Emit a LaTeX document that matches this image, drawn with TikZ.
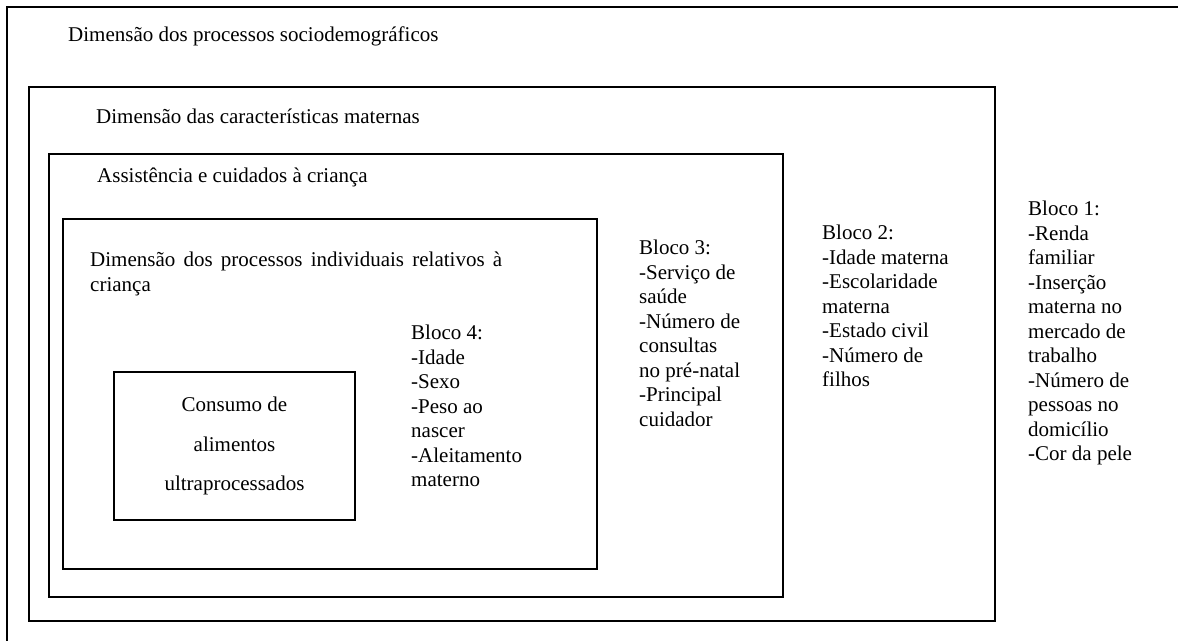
\documentclass[tikz,border=0pt]{standalone}
\usepackage{fontspec}
\setmainfont{Liberation Serif}
\usepackage{tikz}
\usetikzlibrary{positioning}

\begin{document}
\begin{tikzpicture}[
  x=1pt, y=-1pt,
  font=\fontsize{21}{24.5}\selectfont,
  frame/.style={draw=black, line width=1.6pt},
  caption/.style={anchor=north west, inner sep=0pt, align=left},
  blocklist/.style={anchor=north west, inner sep=0pt, align=left},
  core/.style={inner sep=0pt, align=center, font=\fontsize{21}{39.5}\selectfont},
]
\useasboundingbox (0,0) rectangle (1178,640);

% Nested dimensions
\draw[frame] (7,7) rectangle (1200,660);
\draw[frame] (29,87) rectangle (995,621);
\draw[frame] (49,154) rectangle (783,597);
\draw[frame] (63,219) rectangle (597,569);
\draw[frame] (114,372) rectangle (355,520);

% Dimension titles
\node[caption] (socio) at (68,27) {Dimensão dos processos sociodemográficos};
\node[caption] (mat) at (96,109) {Dimensão das características maternas};
\node[caption] (assist) at (97,168) {Assistência e cuidados à criança};
\node[caption] (indiv) at (90,252)
  {\makebox[412pt][s]{Dimensão dos processos individuais relativos à}\\criança};

% Outcome
\node[core] (consumo) at (234.5,446) {Consumo de\\alimentos\\ultraprocessados};

% Blocks of variables
\node[blocklist] (b4) at (411,325) {Bloco 4:\\-Idade\\-Sexo\\-Peso ao\\nascer\\-Aleitamento\\materno};
\node[blocklist] (b3) at (639,240) {Bloco 3:\\-Serviço de\\saúde\\-Número de\\consultas\\no pré-natal\\-Principal\\cuidador};
\node[blocklist] (b2) at (822,225) {Bloco 2:\\-Idade materna\\-Escolaridade\\materna\\-Estado civil\\-Número de\\filhos};
\node[blocklist] (b1) at (1028,201) {Bloco 1:\\-Renda\\familiar\\-Inserção\\materna no\\mercado de\\trabalho\\-Número de\\pessoas no\\domicílio\\-Cor da pele};

\end{tikzpicture}
\end{document}
